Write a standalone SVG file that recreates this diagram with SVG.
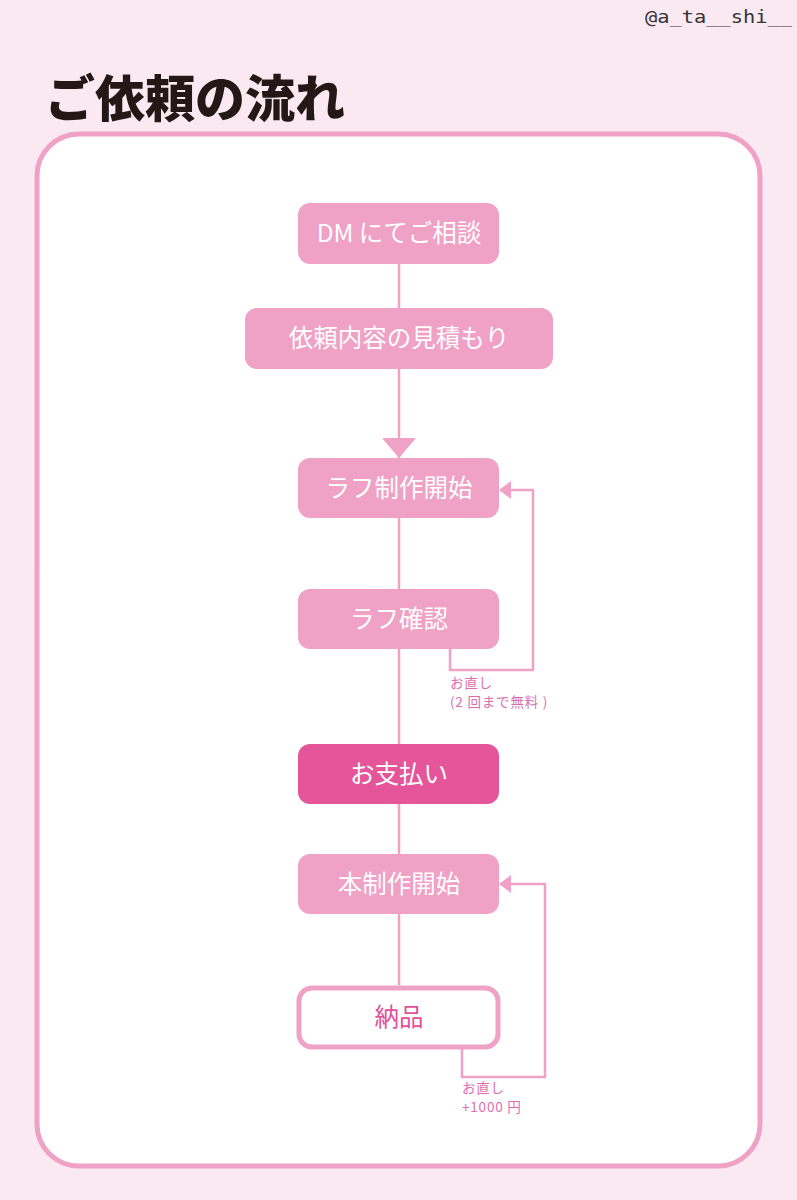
<svg xmlns="http://www.w3.org/2000/svg" width="797" height="1200" viewBox="0 0 797 1200">
<style>
.box{fill:#f0a1c6;}
.lbl{font-family:"Noto Sans CJK JP","Noto Sans",sans-serif;font-size:24.5px;font-weight:400;fill:#ffffff;text-anchor:middle;}
.note{font-family:"Noto Sans CJK JP","Noto Sans",sans-serif;font-size:13.5px;letter-spacing:0.8px;fill:#dc6eb0;}
.ln{fill:none;stroke:#f0a1c6;stroke-width:2.5;}
.ah{fill:#f0a1c6;}
</style>
<rect x="0" y="0" width="797" height="1200" fill="#fbe9f2"/>
<text x="645" y="23" textLength="147" lengthAdjust="spacingAndGlyphs" font-family="'DejaVu Sans Mono',monospace" font-size="17" fill="#333">@a_ta__shi__</text>
<text x="45" y="117" font-family="'Noto Sans CJK JP',sans-serif" font-weight="900" font-size="50" fill="#231815">ご依頼の流れ</text>
<rect x="37" y="134" width="723" height="1032" rx="42" fill="#ffffff" stroke="#f0a1c6" stroke-width="5"/>
<g id="connectors">
<line class="ln" x1="399" y1="264" x2="399" y2="985"/>
<polygon class="ah" points="382,438 416,438 399,458"/>
<polyline class="ln" points="450,649 450,670 533,670 533,490 508,490"/>
<polygon class="ah" points="499,490 511,481 511,499"/>
<polyline class="ln" points="462,1049 462,1077 545,1077 545,884 508,884"/>
<polygon class="ah" points="499,884 511,875 511,893"/>
</g>
<g id="n1"><rect class="box" x="298" y="203" width="201" height="61" rx="12"/><text class="lbl" x="399" y="242">DM にてご相談</text></g>
<g id="n2"><rect class="box" x="245" y="308" width="308" height="61" rx="12"/><text class="lbl" x="399" y="347">依頼内容の見積もり</text></g>
<g id="n3"><rect class="box" x="298" y="458" width="201" height="60" rx="12"/><text class="lbl" x="399" y="497">ラフ制作開始</text></g>
<g id="n4"><rect class="box" x="298" y="589" width="201" height="60" rx="12"/><text class="lbl" x="399" y="628">ラフ確認</text></g>
<g id="n5"><rect x="298" y="744" width="201" height="60" rx="12" fill="#e4559a"/><text class="lbl" x="399" y="783">お支払い</text></g>
<g id="n6"><rect class="box" x="298" y="854" width="201" height="60" rx="12"/><text class="lbl" x="399" y="893">本制作開始</text></g>
<g id="n7"><rect x="299" y="988" width="199" height="59" rx="13" fill="#ffffff" stroke="#f0a1c6" stroke-width="5"/><text class="lbl" x="399" y="1026" style="fill:#e0509a">納品</text></g>
<g id="notes">
<text class="note" x="450" y="688">お直し</text>
<text class="note" x="450" y="707">(2 回まで無料 )</text>
<text class="note" x="462" y="1093">お直し</text>
<text class="note" x="462" y="1112">+1000 円</text>
</g>
</svg>
